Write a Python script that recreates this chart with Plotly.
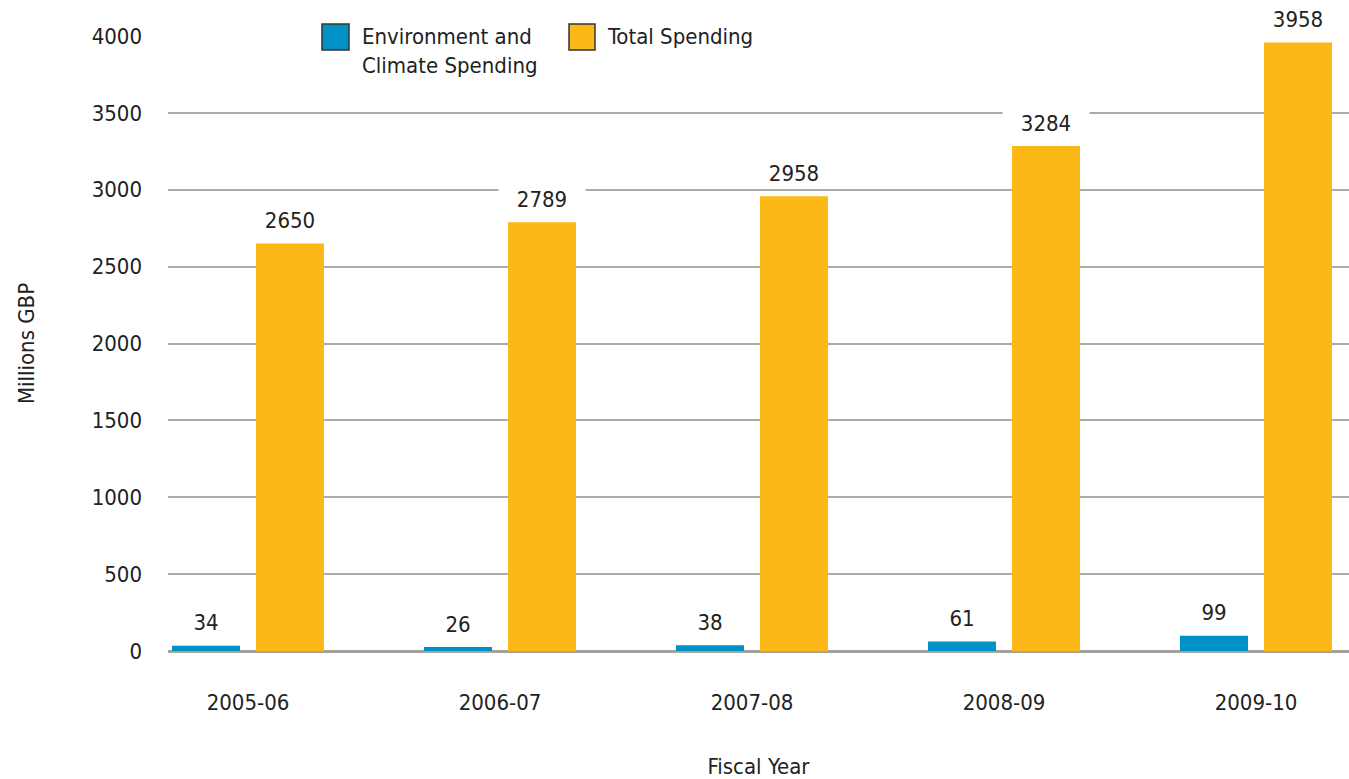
import plotly.graph_objects as go

years = ["2005-06", "2006-07", "2007-08", "2008-09", "2009-10"]
env_spending = [34, 26, 38, 61, 99]
total_spending = [2650, 2789, 2958, 3284, 3958]
series_names = ["Environment and<br>Climate Spending", "Total Spending"]
y_ticks = [0, 500, 1000, 1500, 2000, 2500, 3000, 3500, 4000]

BLUE = "#0092C7"
YELLOW = "#FCB816"
GRID = "#ABABA3"
FONT = "DejaVu Sans Condensed, Liberation Sans Narrow, Arial Narrow, sans-serif"
FS = 22
TXT = "#222222"

W, H = 1349, 779
ML, MR, MT, MB = 168, 0, 36, 128
PW = W - ML - MR
PH = H - MT - MB
CAT = 252.0  # px per category
BW = 68.0
x0 = -80.0 / CAT
x1 = x0 + PW / CAT

fig = go.Figure()
fig.add_trace(go.Bar(
    x=years, y=env_spending, name="Environment and Climate Spending",
    marker=dict(color=BLUE, line=dict(width=0)),
    width=BW / CAT, offset=-76.0 / CAT, showlegend=False, cliponaxis=False,
))
fig.add_trace(go.Bar(
    x=years, y=total_spending, name="Total Spending",
    marker=dict(color=YELLOW, line=dict(width=0)),
    width=BW / CAT, offset=8.0 / CAT, showlegend=False, cliponaxis=False,
))

annotations = []
for yr, v in zip(years, env_spending):
    annotations.append(dict(x=yr, y=v, xref="x", yref="y", text=str(v), showarrow=False,
                            xshift=-42, yshift=23, yanchor="middle", bgcolor="white",
                            width=84, font=dict(family=FONT, size=FS, color=TXT)))
for yr, v in zip(years, total_spending):
    annotations.append(dict(x=yr, y=v, xref="x", yref="y", text=str(v), showarrow=False,
                            xshift=42, yshift=23, yanchor="middle", bgcolor="white",
                            width=84, font=dict(family=FONT, size=FS, color=TXT)))

def px2x(px):
    return (px - ML) / PW

def py2y(py):
    return (H - MB - py) / PH

shapes = [
    dict(type="rect", xref="paper", yref="paper", layer="above",
         x0=px2x(318), x1=px2x(783), y0=py2y(88), y1=py2y(18),
         fillcolor="white", line=dict(width=0)),
    dict(type="rect", xref="paper", yref="paper", layer="above",
         x0=px2x(322), x1=px2x(349), y0=py2y(50), y1=py2y(24),
         fillcolor=BLUE, line=dict(color="#333333", width=1.5)),
    dict(type="rect", xref="paper", yref="paper", layer="above",
         x0=px2x(569), x1=px2x(595), y0=py2y(50), y1=py2y(24),
         fillcolor=YELLOW, line=dict(color="#333333", width=1.5)),
]
annotations.append(dict(x=px2x(360), y=py2y(22), xref="paper", yref="paper",
                        text=series_names[0], showarrow=False, xanchor="left", yanchor="top",
                        align="left", font=dict(family=FONT, size=FS, color=TXT)))
annotations.append(dict(x=px2x(605), y=py2y(22), xref="paper", yref="paper",
                        text=series_names[1], showarrow=False, xanchor="left", yanchor="top",
                        align="left", font=dict(family=FONT, size=FS, color=TXT)))

fig.update_layout(
    width=W, height=H, autosize=False,
    margin=dict(l=ML, r=MR, t=MT, b=MB, pad=0),
    paper_bgcolor="white", plot_bgcolor="white",
    barmode="overlay", showlegend=False,
    font=dict(family=FONT, size=FS, color=TXT),
    xaxis=dict(type="category", range=[x0, x1], showgrid=False, zeroline=False,
               showline=False, ticks="", ticklabelstandoff=36,
               title=dict(text="Fiscal Year", standoff=44,
                          font=dict(family=FONT, size=FS, color=TXT)),
               tickfont=dict(family=FONT, size=FS, color=TXT)),
    yaxis=dict(range=[0, 4000], tickvals=y_ticks, ticktext=[str(t) for t in y_ticks],
               showgrid=True, gridcolor=GRID, gridwidth=1.5,
               zeroline=True, zerolinecolor="#A3A39B", zerolinewidth=3,
               showline=False, ticks="", ticklabelstandoff=25,
               title=dict(text="Millions GBP", standoff=50,
                          font=dict(family=FONT, size=FS, color=TXT)),
               tickfont=dict(family=FONT, size=FS, color=TXT)),
    annotations=annotations, shapes=shapes,
)

fig.write_html("out.html")
